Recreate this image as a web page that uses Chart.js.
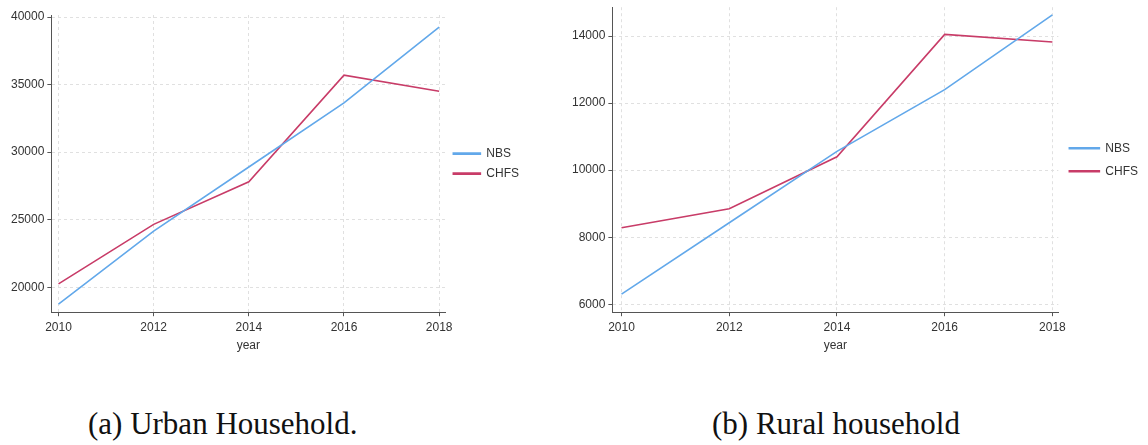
<!DOCTYPE html>
<html lang="en">
<head>
  <meta charset="UTF-8" />
  <title>Urban and Rural Household</title>
  <script src="https://cdn.jsdelivr.net/npm/chart.js"></script>
  <style>
    body { margin: 0; background: #fff; width: 1148px; height: 445px; position: relative; overflow: hidden; }
    .box { position: absolute; }
    .caption { position: absolute; top: 408px; font-family: "Liberation Serif", "Times New Roman", serif; font-size: 31px; line-height: 31px; color: #111; white-space: nowrap; }
  </style>
</head>
<body>
  <div class="box" style="left:0; top:0; width:529px; height:360px;"><canvas id="urbanChart"></canvas></div>
  <div class="box" style="left:555px; top:-3px; width:593px; height:363px;"><canvas id="ruralChart"></canvas></div>
  <div class="caption" style="left:88px;">(a) Urban Household.</div>
  <div class="caption" style="left:712px;">(b) Rural household</div>

  <script>
    const years = [2010, 2012, 2014, 2016, 2018];
    const urbanNBS = [18750, 24150, 28900, 33650, 39250];
    const urbanCHFS = [20250, 24650, 27800, 35700, 34500];
    const ruralNBS = [6300, 8430, 10560, 12400, 14630];
    const ruralCHFS = [8280, 8850, 10400, 14050, 13820];
    const urbanTicks = [20000, 25000, 30000, 35000, 40000];
    const ruralTicks = [6000, 8000, 10000, 12000, 14000];
    const yearTicks = [2010, 2012, 2014, 2016, 2018];

    const blue = '#62a8ea';
    const red = '#c83c68';
    const tickFont = { family: '"Liberation Sans", Arial, sans-serif', size: 12 };

    function points(vals) {
      return years.map((y, i) => ({ x: y, y: vals[i] }));
    }

    function makeChart(id, nbs, chfs, yTicks, yMin, yMax, xMin, xMax, pad, legendPad, boxW) {
      const ctx = document.getElementById(id).getContext('2d');
      const gridOpts = { color: '#e0e0e0', tickColor: '#555', tickLength: 4, tickBorderDash: [] };
      const borderOpts = { color: '#555', width: 1, dash: [3, 3] };
      return new Chart(ctx, {
        type: 'line',
        data: {
          datasets: [
            { label: 'NBS', data: points(nbs), borderColor: blue, backgroundColor: blue, borderWidth: 1.6, pointRadius: 0, tension: 0 },
            { label: 'CHFS', data: points(chfs), borderColor: red, backgroundColor: red, borderWidth: 1.6, pointRadius: 0, tension: 0 }
          ]
        },
        options: {
          responsive: true,
          maintainAspectRatio: false,
          animation: false,
          layout: { padding: pad },
          plugins: {
            tooltip: { enabled: false },
            legend: {
              position: 'right',
              fullSize: false,
              labels: { boxWidth: boxW, boxHeight: 1, padding: legendPad, color: '#333', font: tickFont }
            }
          },
          scales: {
            x: {
              type: 'linear',
              min: xMin,
              max: xMax,
              afterBuildTicks: s => { s.ticks = yearTicks.map(v => ({ value: v })); },
              ticks: { color: '#333', font: tickFont, padding: 4, callback: v => String(v) },
              grid: gridOpts,
              border: borderOpts,
              title: { display: true, text: 'year', color: '#333', font: tickFont, padding: { top: 0, bottom: 0 } }
            },
            y: {
              min: yMin,
              max: yMax,
              afterBuildTicks: s => { s.ticks = yTicks.map(v => ({ value: v })); },
              ticks: { color: '#333', font: tickFont, padding: 3, callback: v => String(v) },
              grid: gridOpts,
              border: borderOpts
            }
          }
        }
      });
    }

    makeChart('urbanChart', urbanNBS, urbanCHFS, urbanTicks, 18150, 40150, 2009.85, 2018.13,
      { left: 8, top: 15, bottom: 7, right: 0 }, 8, 27);
    makeChart('ruralChart', ruralNBS, ruralCHFS, ruralTicks, 5763, 14860, 2009.83, 2018.11,
      { left: 14, top: 5, bottom: 7, right: 0 }, 11, 30);
  </script>
</body>
</html>
